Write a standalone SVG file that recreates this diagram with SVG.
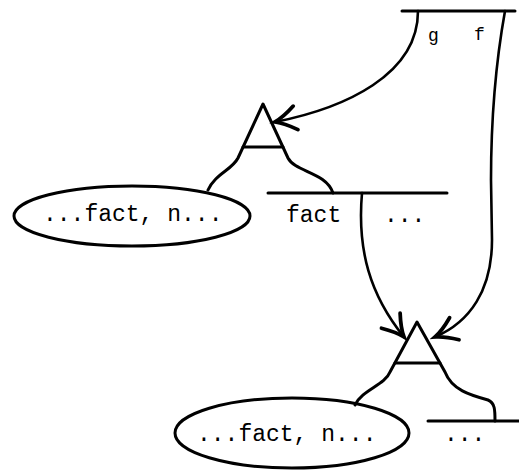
<svg xmlns="http://www.w3.org/2000/svg" width="519" height="470" viewBox="0 0 519 470">
<style>
.ln{fill:none;stroke:#000;stroke-width:3;stroke-linecap:round;stroke-linejoin:round}
.cv{fill:none;stroke:#000;stroke-width:2.6;stroke-linecap:round}
.tx{font-family:"Liberation Mono",monospace;font-size:23px;fill:#000}
.lb{font-family:"Liberation Mono",monospace;font-size:18px;fill:#000}
</style>
<defs>
<marker id="ah" markerUnits="userSpaceOnUse" markerWidth="30" markerHeight="30" refX="16" refY="10" orient="auto" viewBox="0 0 20 20">
<path d="M2,2 Q10,8 16,10 Q10,12 2,18" fill="none" stroke="#000" stroke-width="2.5" stroke-linecap="round"/>
</marker>
</defs>
<g id="top-frame">
<path class="ln" d="M402,11 H515"/>
<text class="lb" x="428" y="41">g</text>
<text class="lb" x="474" y="40">f</text>
</g>
<g id="triangle1">
<path class="ln" d="M208,190 C215,174 232,170 238,158 L263,104 L288,158 C295,172 326,172 333,193"/>
<path class="ln" d="M243,147 H283"/>
</g>
<g id="ellipse1">
<ellipse class="ln" cx="132" cy="216" rx="118" ry="30"/>
<text class="tx" x="43" y="221">...fact, n...</text>
</g>
<g id="frame2">
<path class="ln" d="M268,193 H447"/>
<text class="tx" x="286" y="222">fact</text>
<text class="tx" x="384" y="222">...</text>
</g>
<g id="triangle2">
<path class="ln" d="M355,405 C362,390 385,385 390,372 L417,322 L445,372 C452,390 470,395 488,400 C495,403 495,410 495,421"/>
<path class="ln" d="M395,363 H440"/>
</g>
<g id="ellipse2">
<ellipse class="ln" cx="292" cy="433" rx="117" ry="35"/>
<text class="tx" x="197" y="441">...fact, n...</text>
</g>
<g id="frame3">
<path class="ln" d="M428,421 H519"/>
<text class="tx" x="444" y="441">...</text>
</g>
<g id="connectors">
<path class="cv" d="M418,11 C418,75 345,108 275,122" marker-end="url(#ah)"/>
<path class="cv" d="M362,193 C357,250 370,295 404,337" marker-end="url(#ah)"/>
<path class="cv" d="M505,11 C498,50 491,100 491,180 L492,240 C492,290 470,322 435,337" marker-end="url(#ah)"/>
</g>
</svg>
